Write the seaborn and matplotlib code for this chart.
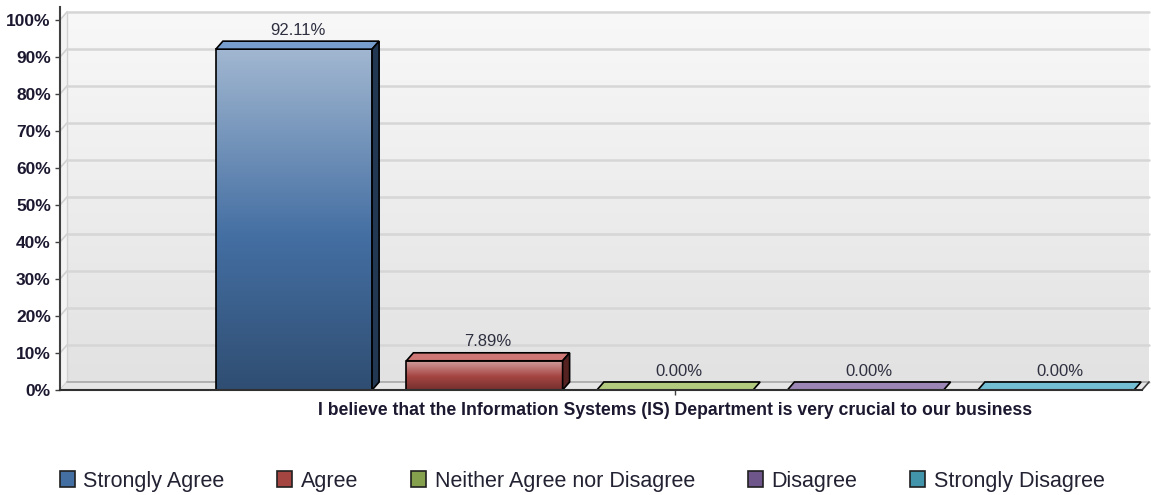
import numpy as np
import pandas as pd
import seaborn as sns
import matplotlib
matplotlib.use("Agg")
import matplotlib.pyplot as plt
import matplotlib.transforms as mtransforms
from matplotlib.patches import Polygon, Patch
from matplotlib.colors import to_rgb, LinearSegmentedColormap

# data
question = "I believe that the Information Systems (IS) Department is very crucial to our business"
responses = ["Strongly Agree", "Agree", "Neither Agree nor Disagree", "Disagree", "Strongly Disagree"]
percents = [92.11, 7.89, 0.00, 0.00, 0.00]
colors = ["#4f81bd", "#c0504d", "#9bbb59", "#8064a2", "#4bacc6"]
yticks = list(range(0, 101, 10))

DEPTH = (7, 8)  # 3d depth in pixels (right, up)


def mix(c, other, t):
    c = np.array(to_rgb(c))
    o = np.array(to_rgb(other))
    return tuple(c + (o - c) * t)


df = pd.DataFrame({"question": [question] * len(responses),
                   "response": responses,
                   "percent": percents})

sns.set_theme(style="white")
narrow = ["Liberation Sans Narrow", "Liberation Sans", "DejaVu Sans"]
plt.rcParams["font.family"] = ["Liberation Sans", "DejaVu Sans"]

fig = plt.figure(figsize=(11.51, 4.95), dpi=100)
ax = fig.add_axes([60 / 1151, 105 / 495, 1082 / 1151, 383 / 495])

mids = [mix(c, "black", 0.14) for c in colors]
sns.barplot(data=df, x="question", y="percent", hue="response", hue_order=responses,
            palette=mids, width=0.8, gap=0.18, saturation=1, legend=False,
            edgecolor="black", linewidth=1.2, ax=ax)
bars = list(ax.patches)[:len(responses)]

k = 952.5 / 0.8  # px per data unit
xlim = (-(675 - 60) / k, (1142 - 675) / k)
ylim = (0, 103.5)
ax.set_xlim(xlim)
ax.set_ylim(ylim)

dx, dy = DEPTH
ident = mtransforms.IdentityTransform()
back = ax.transData + mtransforms.Affine2D().translate(dx, dy)

# back wall with soft gradient
wall_cmap = LinearSegmentedColormap.from_list("wall", ["#e2e2e2", "#f8f8f8"])
ax.imshow(np.linspace(0, 1, 128).reshape(-1, 1), cmap=wall_cmap, origin="lower",
          extent=(xlim[0], xlim[1], 0, 100), aspect="auto", transform=back,
          zorder=0, clip_on=False)

pl0 = ax.transData.transform((xlim[0], 0))
pr0 = ax.transData.transform((xlim[1], 0))
pl100 = ax.transData.transform((xlim[0], 100))

# left side wall
ax.add_patch(Polygon([pl0, pl0 + [dx, dy], pl100 + [dx, dy], pl100], closed=True,
                     facecolor="#f3f3f3", edgecolor="none", transform=ident,
                     zorder=0.2, clip_on=False))
ax.plot([pl0[0] + dx, pl100[0] + dx], [pl0[1] + dy, pl100[1] + dy], color="#d0d0d0",
        lw=1, transform=ident, zorder=0.3, clip_on=False)

# gridlines on the back wall + the slant on the side wall
for v in yticks:
    ax.plot(xlim, [v, v], color="#d6d6d6", lw=1.8, transform=back, zorder=0.5, clip_on=False)
    p = ax.transData.transform((xlim[0], v))
    ax.plot([p[0], p[0] + dx], [p[1], p[1] + dy], color="#d0d0d0", lw=1.2,
            transform=ident, zorder=0.5, clip_on=False)

# floor
ax.add_patch(Polygon([pl0, pr0, pr0 + [dx, dy], pl0 + [dx, dy]], closed=True,
                     facecolor="#e6e6e6", edgecolor="none", transform=ident,
                     zorder=0.8, clip_on=False))
ax.plot([pl0[0] + dx, pr0[0] + dx], [pl0[1] + dy, pr0[1] + dy], color="#a8a8a8",
        lw=1.2, transform=ident, zorder=0.85, clip_on=False)
ax.plot([pr0[0], pr0[0] + dx], [pr0[1], pr0[1] + dy], color="#404040",
        lw=1.2, transform=ident, zorder=0.85, clip_on=False)

# 3d bars
grad = np.linspace(0, 1, 256).reshape(-1, 1)
for bar, base, mid, p in zip(bars, colors, mids, percents):
    x0, w, h = bar.get_x(), bar.get_width(), bar.get_height()
    a = ax.transData.transform((x0, 0))
    b = ax.transData.transform((x0 + w, h))
    top = [(a[0], b[1]), (b[0], b[1]), (b[0] + dx, b[1] + dy), (a[0] + dx, b[1] + dy)]
    ax.add_patch(Polygon(top, closed=True, facecolor=mix(base, "white", 0.22),
                         edgecolor="black", lw=1.2, transform=ident, zorder=2.3,
                         clip_on=False))
    if h > 0:
        side = [(b[0], a[1]), (b[0] + dx, a[1] + dy), (b[0] + dx, b[1] + dy), (b[0], b[1])]
        ax.add_patch(Polygon(side, closed=True, facecolor=mix(mid, "black", 0.5),
                             edgecolor="black", lw=1.2, transform=ident, zorder=2.3,
                             clip_on=False))
        cmap = LinearSegmentedColormap.from_list(
            "bar", [(0, mix(mid, "black", 0.3)), (0.45, mid), (1, mix(mid, "white", 0.5))])
        im = ax.imshow(grad, cmap=cmap, origin="lower", extent=(x0, x0 + w, 0, h),
                       aspect="auto", zorder=2.1)
        im.set_clip_path(bar)
        bar.set_facecolor("none")
    bar.set_zorder(2.2)
    ax.annotate(f"{p:.2f}%", xy=(x0 + w / 2, h), xytext=(2.5, 8.2),
                textcoords="offset points", ha="center", va="bottom",
                fontsize=12, color="#2e3040", zorder=3)

ax.set_xlim(xlim)
ax.set_ylim(ylim)

for s in ["top", "right"]:
    ax.spines[s].set_visible(False)
ax.spines["left"].set_color("#404040")
ax.spines["left"].set_linewidth(1.5)
ax.spines["bottom"].set_color("#303030")
ax.spines["bottom"].set_linewidth(1.5)
ax.spines["bottom"].set_zorder(2.5)

ax.set_yticks(yticks)
ax.set_yticklabels([f"{v}%" for v in yticks], fontfamily=narrow, fontweight="bold",
                   fontsize=12.5, color="#1c1830")
ax.set_xticks([0])
ax.set_xticklabels([question], fontfamily=narrow, fontweight="bold",
                   fontsize=12.7, color="#1c1830")
ax.tick_params(left=True, bottom=True, length=3.6, width=1, color="#404040")
ax.tick_params(axis="y", pad=3)
ax.tick_params(axis="x", pad=5)
ax.set_xlabel("")
ax.set_ylabel("")

handles = [Patch(facecolor=m, edgecolor="#202020", linewidth=1.2) for m in mids]
fig.legend(handles, responses, loc="center", bbox_to_anchor=(582 / 1151, 1 - 481 / 495),
           ncol=5, frameon=False, fontsize=15.5, handlelength=0.7, handleheight=0.7,
           handletextpad=0.4, columnspacing=2.45, labelcolor="#222233")

fig.savefig("out.png", dpi=100, facecolor="white")
